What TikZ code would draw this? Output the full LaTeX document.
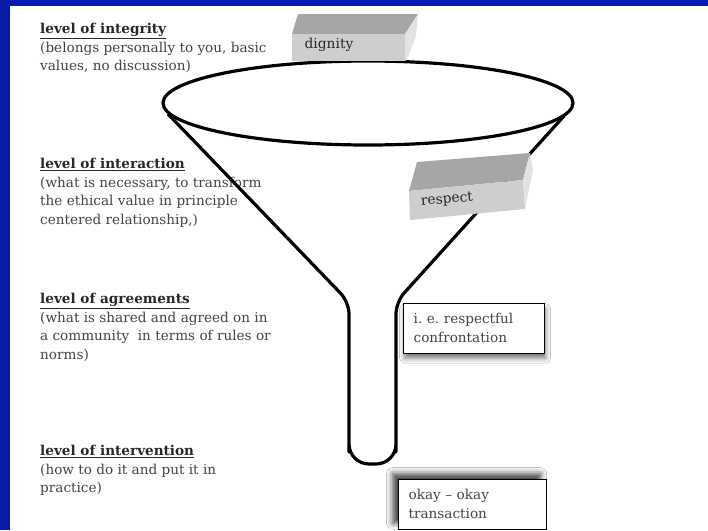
\documentclass[tikz,border=0pt]{standalone}
\usepackage{fontspec}
\setmainfont{DejaVu Serif}
\usetikzlibrary{shadows,shadows.blur}

\definecolor{slideblue}{RGB}{8,28,168}
\definecolor{textgray}{RGB}{68,68,68}
\definecolor{titlegray}{RGB}{40,40,40}
\definecolor{bricktop}{RGB}{166,166,166}
\definecolor{brickfront}{RGB}{206,206,206}
\definecolor{brickside}{RGB}{226,226,226}

\tikzset{
  level/.style={anchor=north west, inner sep=0pt, align=left, text=textgray,
    font=\fontsize{13.6}{18.5}\selectfont},
  funnel/.style={line width=3.2pt, line join=round},
  brick/.style={inner sep=0pt, text=titlegray, font=\fontsize{13.8}{15}\selectfont},
  note/.style={draw, line width=1.3pt, fill=white, anchor=north west, align=left,
    inner xsep=10pt, inner ysep=10pt, text=textgray,
    font=\fontsize{13.6}{19}\selectfont}
}

\newcommand{\lvltitle}[1]{\textcolor{titlegray}{\textbf{\underline{#1}}}}

\begin{document}
\frenchspacing
\begin{tikzpicture}[x=1pt,y=-1pt]
  \useasboundingbox (0,0) rectangle (708,530);
  \fill[slideblue] (0,0) rectangle (708,530);
  \fill[white] (10,6) rectangle (708,530);

  \node (integrity)    at (40,23)  [level] {\lvltitle{level of integrity}\\(belongs personally to you, basic\\values, no discussion)};
  \node (interaction)  at (40,158) [level] {\lvltitle{level of interaction}\\(what is necessary, to transform\\the ethical value in principle\\centered relationship,)};
  \node (agreements)   at (40,293) [level] {\lvltitle{level of agreements}\\(what is shared and agreed on in\\a community\ \ in terms of rules or\\norms)};
  \node (intervention) at (40,445) [level] {\lvltitle{level of intervention}\\(how to do it and put it in\\practice)};

  % the funnel
  \draw[funnel] (368,103) ellipse [x radius=205, y radius=42];
  \draw[funnel, rounded corners=12pt] (168,114) -- (349,302) -- (349,440)
    [rounded corners=20pt] -- (349,464) -- (396,464) [rounded corners=12pt] -- (396,440) -- (396,302) -- (564,116);

  % bricks
  \fill[bricktop]   (292,34) -- (298,14) -- (418,14) -- (405,34) -- cycle;
  \fill[brickfront] (292,34) rectangle (405,61);
  \fill[brickside]  (405,34) -- (418,14) -- (416,36) -- (407,59) -- (405,61) -- cycle;
  \node (dignity) at (329,45) [brick] {dignity};

  \fill[bricktop]   (409,191) -- (417,162) -- (530,153) -- (523,180) -- cycle;
  \fill[brickfront] (409,191) -- (523,180) -- (525,209) -- (410,220) -- cycle;
  \fill[brickside]  (523,180) -- (530,153) -- (533,170) -- (525,209) -- cycle;
  \node (respect) at (447,200) [brick, rotate=5] {respect};

  \node (confront) at (403,303) [note, text width=121,
    blur shadow={shadow xshift=1pt, shadow yshift=-5pt, shadow blur radius=5pt, shadow opacity=55}] {i. e. respectful\\confrontation};
  \node (okay) at (398,479) [note, text width=128,
    blur shadow={shadow xshift=-6pt, shadow yshift=6pt, shadow blur radius=6pt, shadow opacity=75}] {okay – okay\\transaction};
\end{tikzpicture}
\end{document}
